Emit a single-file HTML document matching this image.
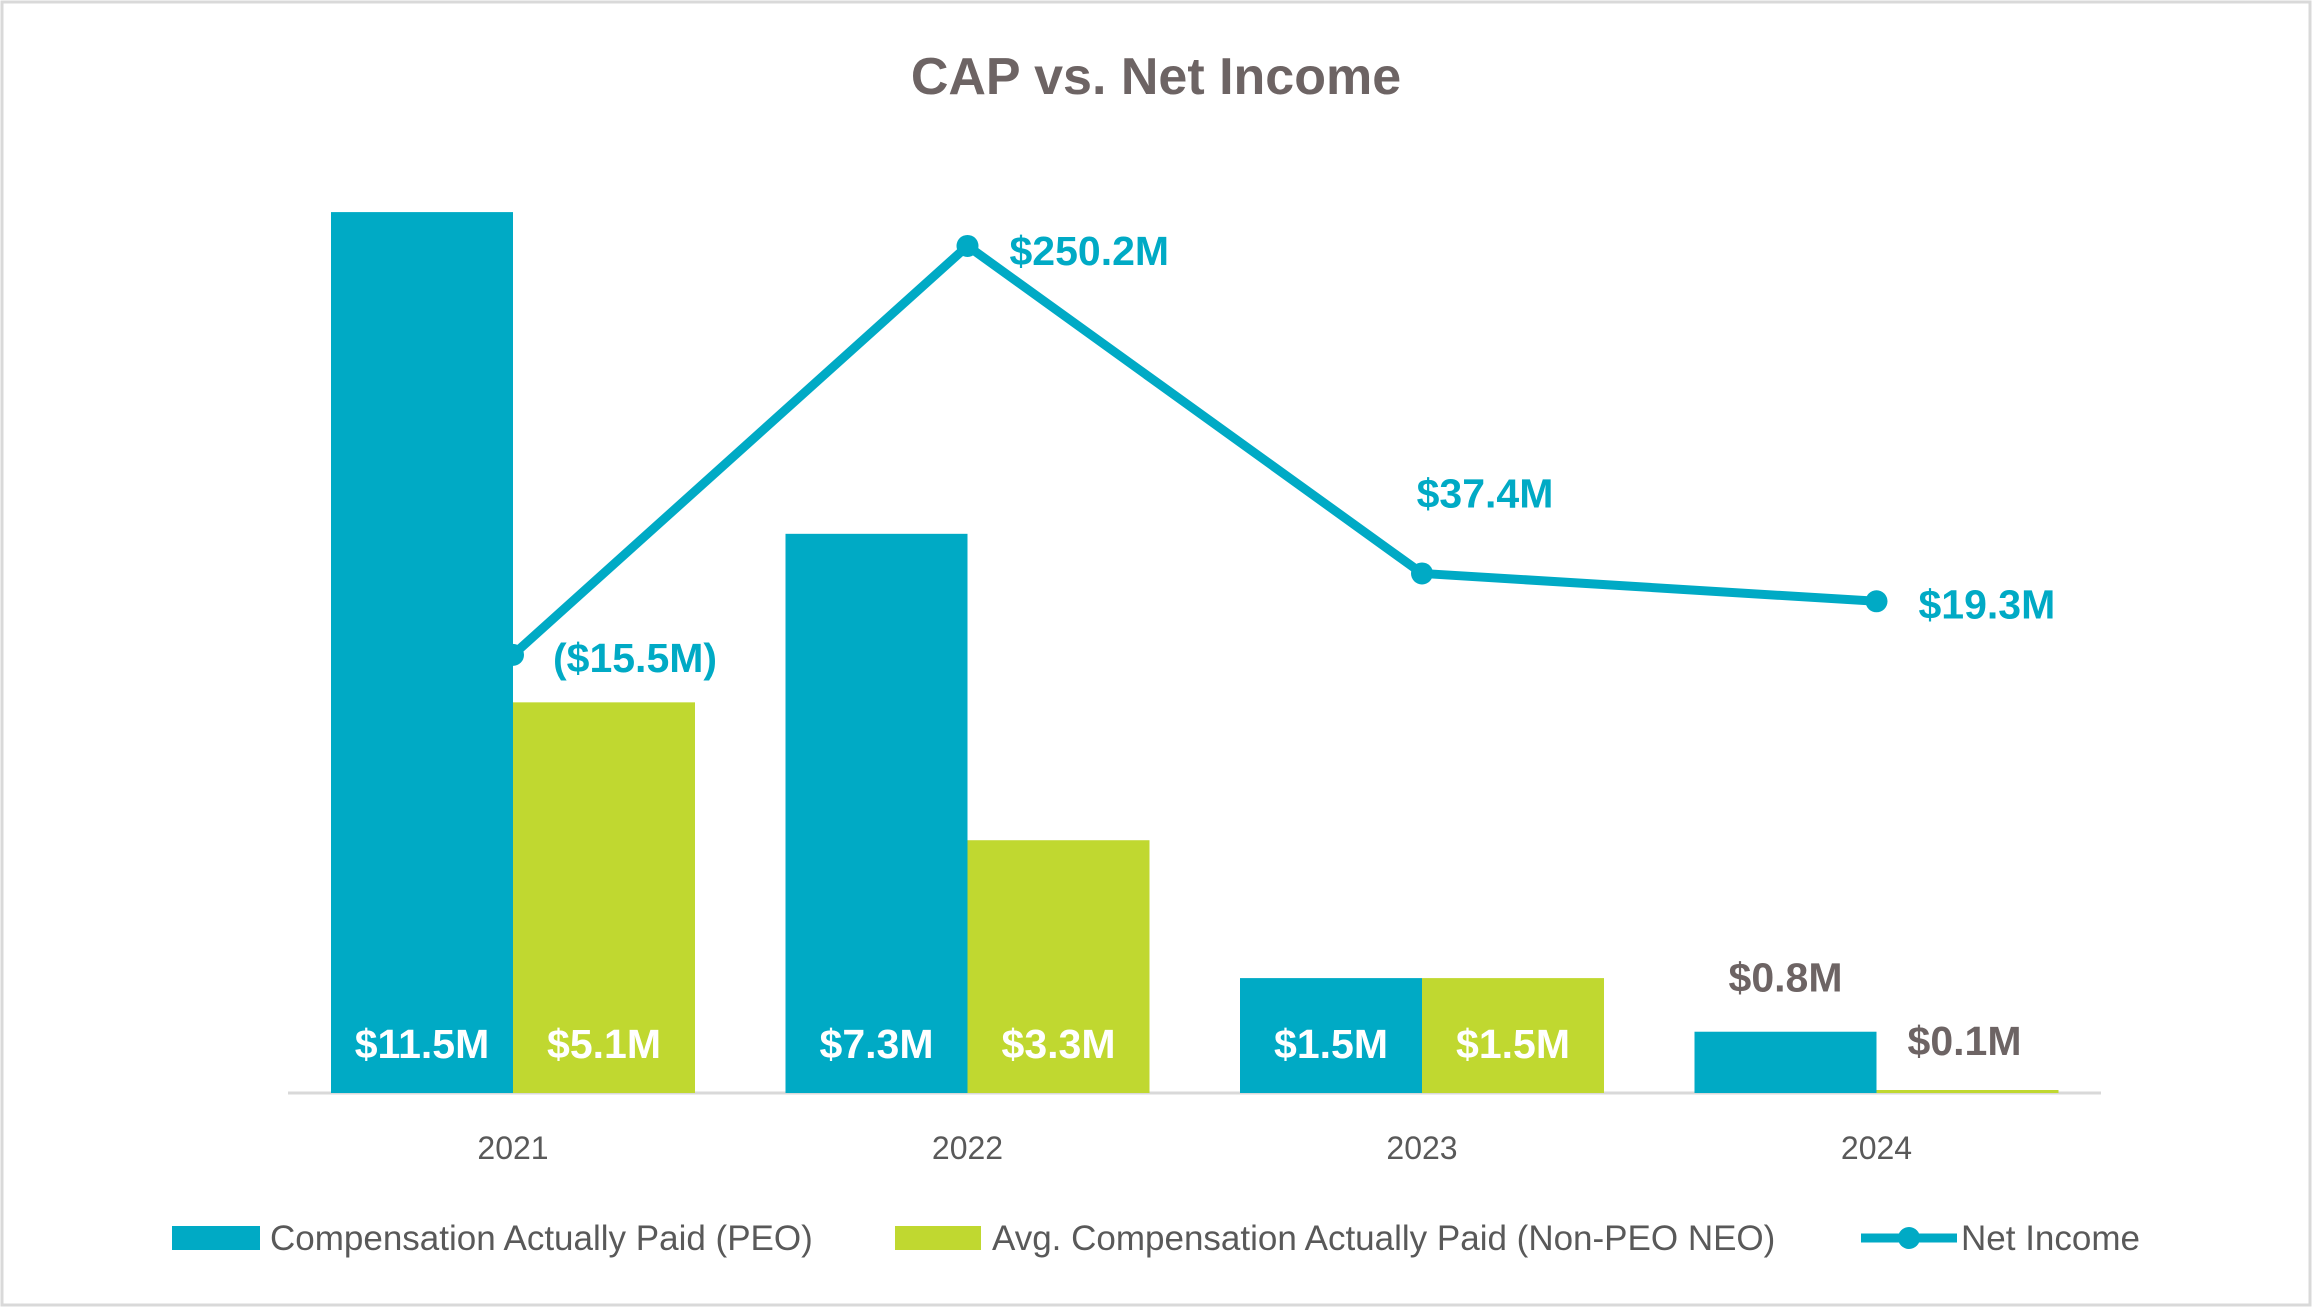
<!DOCTYPE html>
<html><head><meta charset="utf-8"><style>
body{margin:0;background:#fff}
svg text{font-family:"Liberation Sans",sans-serif}
</style></head><body>
<svg width="2312" height="1307" viewBox="0 0 2312 1307">
<rect x="2" y="2" width="2308" height="1303" fill="#fff" stroke="#d9d9d9" stroke-width="3"/>
<text x="1156" y="94" text-anchor="middle" font-size="52" font-weight="bold" fill="#6d6464">CAP vs. Net Income</text>
<line x1="288" y1="1093" x2="2101" y2="1093" stroke="#d9d9d9" stroke-width="3"/>
<g id="bars"></g><g id="line"></g><g id="labels"></g>
<g font-size="35" fill="#595959">
<rect x="172" y="1226" width="88" height="24" fill="#00aac5"/>
<text x="270" y="1250" fill="#595959">Compensation Actually Paid (PEO)</text>
<rect x="895" y="1226" width="86" height="24" fill="#c0d830"/>
<text x="992" y="1250" fill="#595959">Avg. Compensation Actually Paid (Non-PEO NEO)</text>
<line x1="1861" y1="1238" x2="1957" y2="1238" stroke="#00aac5" stroke-width="9"/>
<circle cx="1909" cy="1238" r="11" fill="#00aac5"/>
<text x="1961" y="1250" fill="#595959">Net Income</text>
</g>
</svg>
<script>
const categories=["2021","2022","2023","2024"];
const peo=[11.5,7.3,1.5,0.8];
const nonPeo=[5.1,3.3,1.5,0.1];
const netIncome=[-15.5,250.2,37.4,19.3];
const peoLabels=["$11.5M","$7.3M","$1.5M","$0.8M"];
const nonPeoLabels=["$5.1M","$3.3M","$1.5M","$0.1M"];
const niLabels=["($15.5M)","$250.2M","$37.4M","$19.3M"];
const NS="http://www.w3.org/2000/svg";
const xC=i=>513+i*454.5;
const yB=v=>1093-v*76.6;
const yL=v=>631-v*1.539;
const BW=182;
function mk(t,a,p){const e=document.createElementNS(NS,t);for(const k in a)e.setAttribute(k,a[k]);p.appendChild(e);return e;}
const bars=document.getElementById('bars'),line=document.getElementById('line'),labels=document.getElementById('labels');
categories.forEach((c,i)=>{
 const x=xC(i);
 const r1=mk('rect',{x:x-BW,y:yB(peo[i]),width:BW,height:1093-yB(peo[i]),fill:'#00aac5'},bars);
 
 
 const h2=Math.min(1093-yB(nonPeo[i]), nonPeo[i]<0.5?3:9999);
 const r2=mk('rect',{x:x,y:1093-h2,width:BW,height:h2,fill:'#c0d830'},bars);
 
 
 const t=mk('text',{x:x,y:1159,'text-anchor':'middle','font-size':32,fill:'#595959'},labels);
 t.textContent=c;
 
 
 const small=i===3;
 const l1=mk('text',{x:x-BW/2,y:small?yB(peo[i])-40:1058,'text-anchor':'middle','font-size':41,'font-weight':'bold',fill:small?'#6d6464':'#fff'},labels);
 l1.textContent=peoLabels[i];
 
 
 const l2=mk('text',{x:small?x+BW/2-3:x+BW/2,y:small?1055:1058,'text-anchor':'middle','font-size':41,'font-weight':'bold',fill:small?'#6d6464':'#fff'},labels);
 l2.textContent=nonPeoLabels[i];
 
 
});
const pts=netIncome.map((v,i)=>xC(i)+','+yL(v)).join(' ');
const pl=mk('polyline',{points:pts,fill:'none',stroke:'#00aac5','stroke-width':9,'stroke-linejoin':'round'},line);


const off=[[40,17,'start'],[42,19,'start'],[63,-66,'middle'],[42,17,'start']];
netIncome.forEach((v,i)=>{
 const m=mk('circle',{cx:xC(i),cy:yL(v),r:11,fill:'#00aac5'},line);
 
 
 const t=mk('text',{x:xC(i)+off[i][0],y:yL(v)+off[i][1],'text-anchor':off[i][2],'font-size':41,'font-weight':'bold',fill:'#00aac5'},labels);
 t.textContent=niLabels[i];
 
 
});
</script>
</body></html>
